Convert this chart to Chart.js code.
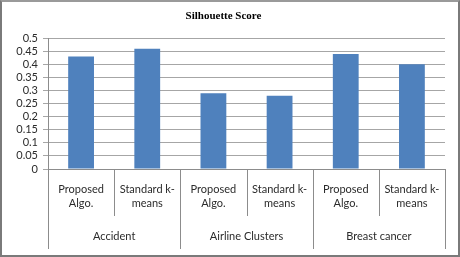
<!DOCTYPE html>
<html>
<head>
<meta charset="utf-8">
<title>Silhouette Score</title>
<script src="https://cdn.jsdelivr.net/npm/chart.js@4/dist/chart.umd.min.js"></script>
<style>
  html, body { margin: 0; padding: 0; background: #fff; }
  .wrap { position: relative; width: 460px; height: 257px; }
  .wrap canvas { position: absolute; left: 0; top: 0; }
  .frame {
    position: absolute; left: 0; top: 0; width: 460px; height: 257px;
    box-sizing: border-box; border: 2px solid #7a7a7a; border-top-color: #9a9a9a;
    pointer-events: none;
  }
</style>
</head>
<body>
<div class="wrap">
  <canvas id="chart" width="460" height="257"></canvas>
  <div class="frame"></div>
</div>
<script>
// ── Data ─────────────────────────────────────────────────────────
const categories = [
  ["Proposed", "Algo."], ["Standard k-", "means"],
  ["Proposed", "Algo."], ["Standard k-", "means"],
  ["Proposed", "Algo."], ["Standard k-", "means"]
];
const groups = ["Accident", "Airline Clusters", "Breast cancer"];
const scores = [0.43, 0.46, 0.29, 0.28, 0.44, 0.40];
const yTicks = ["0", "0.05", "0.1", "0.15", "0.2", "0.25", "0.3", "0.35", "0.4", "0.45", "0.5"];

// ── Styles ───────────────────────────────────────────────────────
const BAR = "#4f81bd";
const GRID = "#a6a6a6";
const AXIS = "#8c8c8c";
const TXT = "#2b2b2b";
const tickFont = { family: "Lato, 'Open Sans', sans-serif", size: 11, lineHeight: 1.3 };

// ── Category separators (multi-level axis look) ──────────────────
const separators = {
  id: "separators",
  afterDraw(chart) {
    const x = chart.scales.x, x2 = chart.scales.x2;
    const ctx = chart.ctx;
    const n = categories.length;
    ctx.save();
    ctx.strokeStyle = AXIS;
    ctx.lineWidth = 1;
    for (let i = 0; i <= n; i++) {
      let px;
      if (i === 0) px = x.left;
      else if (i === n) px = x.right;
      else px = (x.getPixelForValue(i - 1) + x.getPixelForValue(i)) / 2;
      px = Math.round(px) + 0.5;
      const end = (i % 2 === 0) ? x2.bottom : x.bottom;
      ctx.beginPath();
      ctx.moveTo(px, chart.chartArea.bottom);
      ctx.lineTo(px, end);
      ctx.stroke();
    }
    ctx.restore();
  }
};

// ── Chart ────────────────────────────────────────────────────────
new Chart(document.getElementById("chart"), {
  type: "bar",
  data: {
    labels: categories,
    datasets: [{
      data: scores,
      backgroundColor: BAR,
      borderWidth: 0,
      categoryPercentage: 1,
      barPercentage: 0.39
    }]
  },
  options: {
    responsive: false,
    animation: false,
    events: [],
    layout: { padding: { left: 2, right: 15, top: 0, bottom: 8 } },
    plugins: {
      legend: { display: false },
      tooltip: { enabled: false },
      title: {
        display: true,
        text: "Silhouette Score",
        color: "#000",
        font: { family: "'Liberation Serif', 'Times New Roman', serif", size: 11, weight: "bold" },
        padding: { top: 10, bottom: 15 }
      }
    },
    scales: {
      x: {
        offset: true,
        afterFit: s => { s.height = 47; },
        grid: { display: false, drawTicks: false },
        border: { color: AXIS },
        ticks: { color: TXT, font: tickFont, padding: 13, maxRotation: 0, autoSkip: false }
      },
      x2: {
        type: "category",
        labels: groups,
        position: "bottom",
        offset: true,
        afterFit: s => { s.height = 33; },
        grid: { display: false, drawTicks: false },
        border: { display: false },
        ticks: { color: TXT, font: tickFont, padding: 13, maxRotation: 0, autoSkip: false }
      },
      y: {
        min: 0,
        max: 0.5,
        afterFit: s => { s.width = 46; },
        afterBuildTicks: s => { s.ticks = yTicks.map(t => ({ value: +t })); },
        grid: { color: GRID, tickLength: 5, drawTicks: true },
        border: { color: AXIS },
        ticks: { color: TXT, font: tickFont, padding: 5, autoSkip: false, callback: (v, i) => yTicks[i] }
      }
    }
  },
  plugins: [separators]
});
</script>
</body>
</html>
